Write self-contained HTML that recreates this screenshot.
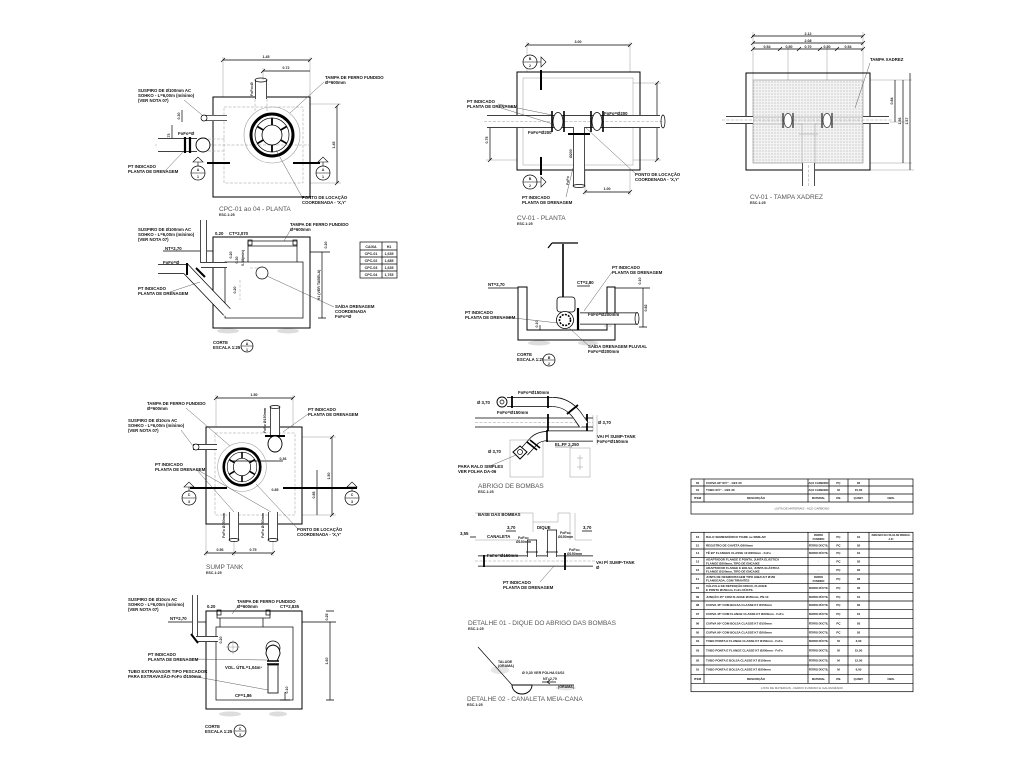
<!DOCTYPE html>
<html><head><meta charset="utf-8">
<style>
html,body{margin:0;padding:0;background:#fff;width:1024px;height:768px;overflow:hidden}
svg{display:block}
.l{fill:none;stroke:#000;stroke-width:.7}
.b{fill:none;stroke:#000;stroke-width:1}
.g{fill:none;stroke:#999;stroke-width:.5}
.d{fill:none;stroke:#999;stroke-width:.5;stroke-dasharray:3 1.5}
.k{fill:none;stroke:#000;stroke-width:2}
.ld{fill:none;stroke:#333;stroke-width:.4}
text{font-family:"Liberation Sans",sans-serif}
.t{font-size:4.3px;font-weight:bold;fill:#111}
.T{font-size:6.5px;fill:#555}
.s{font-size:3.6px;font-weight:bold;fill:#222}
.m{text-anchor:middle}
.tb text{font-size:3px;font-weight:bold;fill:#111}
.tb text.x{font-size:2.6px}
.tb text.o{font-size:2.3px}
</style></head><body>
<svg width="1024" height="768" viewBox="0 0 1024 768" xmlns="http://www.w3.org/2000/svg">
<defs>
<pattern id="hx" width="3" height="3" patternUnits="userSpaceOnUse"><rect width="3" height="3" fill="#f3f3f3"/><circle cx="1" cy="1" r=".6" fill="#b5b5b5"/></pattern>
<g id="mh">
<circle r="28" fill="none" stroke="#999" stroke-width=".6"/>
<circle r="21" fill="none" stroke="#000" stroke-width="3"/>
<circle r="17" fill="none" stroke="#000" stroke-width=".7"/>
<circle r="10" fill="none" stroke="#000" stroke-width=".8"/>
<path d="M8.7,5L14.7,8.5M0,10V17M-8.7,5L-14.7,8.5M-8.7,-5L-14.7,-8.5M0,-10V-17M8.7,-5L14.7,-8.5" stroke="#000" stroke-width="1.8" fill="none"/>
</g>
<g id="su">
<circle r="7" fill="#fff" stroke="#000" stroke-width=".7"/>
<line x1="-7" x2="7" stroke="#000" stroke-width=".5"/>
<path d="M0,-7V-11M-5,-11H5L0,-16Z" fill="none" stroke="#000" stroke-width=".6"/>
</g>
<g id="sr">
<circle r="7" fill="#fff" stroke="#000" stroke-width=".7"/>
<line x1="-7" x2="7" stroke="#000" stroke-width=".5"/>
<path d="M7,0H11M11,-5V5L16,0Z" fill="none" stroke="#000" stroke-width=".6"/>
</g>
<g id="sc">
<circle r="6" fill="#fff" stroke="#000" stroke-width=".7"/>
<line x1="-6" x2="6" stroke="#000" stroke-width=".5"/>
</g>
</defs>

<!-- ============ 1. CPC PLANTA ============ -->
<g>
<path class="g" d="M223,57V97M310,57V97M263,68V80M310,104H341M310,183H341"/>
<path class="l" d="M223,60H310M263,71H310M337,106V183M172,125V148M182,110V122"/>
<path class="l" d="M221,62l4,-4M308,62l4,-4M261,73l4,-4M335,108l4,-4M335,185l4,-4"/>
<text class="s m" x="266" y="58">1.45</text>
<text class="s m" x="286" y="69">0.72</text>
<text class="s m" transform="translate(335,145) rotate(-90)">1.45</text>
<text class="s m" transform="translate(170,137) rotate(-90)">0.73</text>
<text class="s m" transform="translate(180,116) rotate(-90)">0.30</text>
<rect class="b" x="213" y="97" width="97" height="100"/>
<rect class="d" x="224" y="107" width="79" height="76"/>
<line class="d" x1="155" y1="145" x2="310" y2="145"/>
<use href="#mh" x="272" y="135"/>
<line x1="261" y1="80" x2="261" y2="99" stroke="#000" stroke-width="12"/>
<line x1="261" y1="80" x2="261" y2="99.5" stroke="#fff" stroke-width="10.6"/>
<ellipse class="l" cx="261" cy="80" rx="6" ry="2"/>
<path class="d" d="M255,99V112M267,99V112"/>
<text class="s" transform="translate(253,96) rotate(-90)">FoFo=Ø</text>
<line x1="158" y1="145" x2="197" y2="145" stroke="#000" stroke-width="14"/>
<line x1="157" y1="145" x2="197" y2="145" stroke="#fff" stroke-width="12.6"/>
<path d="M185,137V153M190,137V153" stroke="#000" stroke-width="2.2"/>
<circle cx="203" cy="145" r="7" fill="#fff" stroke="#000" stroke-width=".9"/>
<path class="d" d="M208,139H225M208,151H225"/>
<line x1="202" y1="118" x2="227" y2="118" stroke="#000" stroke-width="6"/>
<line x1="202" y1="118" x2="227.5" y2="118" stroke="#fff" stroke-width="4.8"/>
<circle cx="204" cy="118" r="3" fill="#fff" stroke="#000" stroke-width=".7"/>
<path class="k" d="M207,163H230M293,163H320"/>
<use href="#su" x="198" y="173"/><use href="#su" x="323" y="173"/>
<text class="s m" x="198" y="171">A</text><text class="s m" x="198" y="178">1</text>
<text class="s m" x="323" y="171">A</text><text class="s m" x="323" y="178">1</text>
<text class="t" x="138" y="92">SUSPIRO DE Ø100mm AC</text>
<text class="t" x="138" y="97">SOHKO - L=6,00m (mínimo)</text>
<text class="t" x="138" y="102">(VER NOTA 07)</text>
<path class="ld" d="M184,100L202,115"/>
<text class="t" x="178" y="135">FoFo=Ø</text>
<text class="t" x="128" y="168">PT INDICADO</text>
<text class="t" x="128" y="173">PLANTA DE DRENAGEM</text>
<path class="ld" d="M165,171L183,152"/>
<text class="t" x="325" y="79">TAMPA DE FERRO FUNDIDO</text>
<text class="t" x="325" y="84">Ø=600mm</text>
<path class="ld" d="M324,82L290,113"/>
<text class="t" x="302" y="199">PONTO DE LOCAÇÃO</text>
<text class="t" x="302" y="204">COORDENADA - 'X,Y'</text>
<path class="ld" d="M302,197L276,150"/>
<text class="T" x="219" y="211">CPC-01 ao 04 - PLANTA</text>
<text class="s" x="219" y="216">ESC.1:25</text>
</g>

<!-- ============ 2. CPC CORTE ============ -->
<g>
<ellipse cx="228" cy="331" rx="11" ry="2.5" fill="#ddd"/><ellipse cx="288" cy="331" rx="11" ry="2.5" fill="#ddd"/>
<rect class="b" x="213" y="237" width="97" height="91"/>
<rect class="l" x="225" y="262" width="78" height="56"/>
<path class="l" d="M248,246V262M297,246V262"/>
<rect class="l" x="248" y="241" width="49" height="5"/>
<rect class="l" x="248" y="240" width="4" height="5"/><rect class="l" x="293" y="240" width="4" height="5"/>
<path class="l" d="M163,251H213M310,252H330M322,252V318M318,318H326"/>
<path class="d" d="M240,280V300M250,268H260"/>
<line x1="203.5" y1="220" x2="203.5" y2="263" stroke="#000" stroke-width="7"/>
<line x1="203.5" y1="219" x2="203.5" y2="263" stroke="#fff" stroke-width="5.6"/>
<line x1="201" y1="265" x2="227" y2="265" stroke="#000" stroke-width="6"/>
<line x1="201" y1="265" x2="227.5" y2="265" stroke="#fff" stroke-width="4.6"/>
<path d="M158,269H186L227,312" fill="none" stroke="#000" stroke-width="10"/>
<path d="M157,269H186L228,313" fill="none" stroke="#fff" stroke-width="8.6"/>
<path d="M187,263V275M196,268L205,277" stroke="#000" stroke-width="2"/>
<circle cx="262" cy="273" r="6" class="l"/>
<text class="s m" transform="translate(320,285) rotate(-90)">H1 (VER TABELA)</text>
<text class="s m" transform="translate(232,255) rotate(-90)">0.20</text>
<text class="s m" transform="translate(238,260) rotate(-90)">0.30</text>
<text class="s m" transform="translate(244,258) rotate(-90)">0.38(min)</text>
<text class="s m" transform="translate(236,290) rotate(-90)">0.20</text>
<text class="s m" transform="translate(327,245) rotate(-90)">0.20</text>
<rect class="l" x="360" y="242" width="37" height="36"/>
<path class="l" d="M382,242V278M360,250H397M360,257H397M360,264H397M360,271H397"/>
<text class="s m" x="371" y="248">CAIXA</text><text class="s m" x="389" y="248">H1</text>
<text class="s m" x="371" y="255">CPC-01</text><text class="s m" x="389" y="255">1,635</text>
<text class="s m" x="371" y="262">CPC-02</text><text class="s m" x="389" y="262">1,685</text>
<text class="s m" x="371" y="269">CPC-03</text><text class="s m" x="389" y="269">1,635</text>
<text class="s m" x="371" y="276">CPC-04</text><text class="s m" x="389" y="276">1,765</text>
<text class="t" x="138" y="231">SUSPIRO DE Ø100mm AC</text>
<text class="t" x="138" y="236">SOHKO - L=6,00m (mínimo)</text>
<text class="t" x="138" y="241">(VER NOTA 07)</text>
<text class="t" x="215" y="235">0.20</text><text class="t" x="229" y="235">CT=2,070</text>
<text class="t" x="290" y="226">TAMPA DE FERRO FUNDIDO</text>
<text class="t" x="290" y="231">Ø=600mm</text>
<path class="ld" d="M291,229L284,241"/>
<text class="t" x="165" y="250">NT=2,70</text>
<text class="t" x="163" y="264">FoFo=Ø</text>
<text class="t" x="138" y="290">PT INDICADO</text>
<text class="t" x="138" y="295">PLANTA DE DRENAGEM</text>
<path class="ld" d="M170,292L200,282"/>
<text class="t" x="335" y="308">SAÍDA DRENAGEM</text>
<text class="t" x="335" y="313">COORDENADA</text>
<text class="t" x="335" y="318">FoFo=Ø</text>
<path class="ld" d="M334,307L267,276"/>
<text class="t" x="213" y="344">CORTE</text>
<text class="t" x="213" y="349">ESCALA 1:25</text>
<use href="#sc" x="247" y="346"/>
<text class="s m" x="247" y="345">A</text><text class="s m" x="247" y="351">1</text>
</g>

<!-- ============ 3. CV-01 PLANTA ============ -->
<g>
<path class="g" d="M527,42V72M630,42V72M633,83H661M633,160H661M486,160H517M585,170V195M630,170V195"/>
<path class="l" d="M527,45H630M657,83V160M490,120V160M585,192H630"/>
<path class="l" d="M525,47l4,-4M628,47l4,-4M655,85l4,-4M655,162l4,-4M488,122l4,-4M488,162l4,-4M583,194l4,-4M628,194l4,-4"/>
<text class="s m" x="578" y="43">3.00</text>
<text class="s m" transform="translate(655,121) rotate(-90)">1.60</text>
<text class="s m" transform="translate(488,140) rotate(-90)">0.75</text>
<text class="s m" x="607" y="190">1.00</text>
<rect class="b" x="517" y="72" width="123" height="98"/>
<rect class="g" x="523" y="78" width="110" height="87"/>
<line x1="487" y1="121.5" x2="660" y2="121.5" stroke="#000" stroke-width="13"/>
<line x1="486" y1="121.5" x2="661" y2="121.5" stroke="#fff" stroke-width="11.6"/>
<line class="d" x1="484" y1="121.5" x2="664" y2="121.5"/>
<ellipse cx="663" cy="121.5" rx="2" ry="6.5" class="l"/>
<line x1="579" y1="127" x2="579" y2="186" stroke="#000" stroke-width="12"/>
<line x1="579" y1="127" x2="579" y2="186" stroke="#fff" stroke-width="10.6"/>
<ellipse cx="579" cy="186" rx="6" ry="1.5" class="l"/>
<path d="M568,134H590" stroke="#000" stroke-width="2"/>
<path d="M552,111V132M564,111V132M591,111V132M603,111V132" stroke="#000" stroke-width="1.6"/>
<ellipse cx="558" cy="121.5" rx="5" ry="9" fill="#fff" stroke="#000" stroke-width=".8"/>
<ellipse cx="597" cy="121.5" rx="5" ry="9" fill="#fff" stroke="#000" stroke-width=".8"/>
<path class="k" d="M541,70V90M541,157V175"/>
<use href="#sr" x="530" y="62"/><use href="#sr" x="530" y="182"/>
<text class="s m" x="530" y="60">B</text><text class="s m" x="530" y="67">2</text>
<text class="s m" x="530" y="180">B</text><text class="s m" x="530" y="187">2</text>
<text class="t" x="467" y="103">PT INDICADO</text>
<text class="t" x="467" y="108">PLANTA DE DRENAGEM</text>
<path class="ld" d="M498,104L552,115M498,107L553,124"/>
<text class="t" x="604" y="115">FoFo=Ø200</text>
<text class="t" x="528" y="134">FoFo=Ø200</text>
<text class="s" transform="translate(572,158) rotate(-90)">Ø200</text>
<text class="s" transform="translate(569,185) rotate(-90)">FoFo</text>
<text class="t" x="522" y="199">PT INDICADO</text>
<text class="t" x="522" y="204">PLANTA DE DRENAGEM</text>
<path class="ld" d="M566,197L573,168"/>
<text class="t" x="635" y="176">PONTO DE LOCAÇÃO</text>
<text class="t" x="635" y="181">COORDENADA - 'X,Y'</text>
<path class="ld" d="M636,174L586,128"/>
<text class="T" x="517" y="220">CV-01 - PLANTA</text>
<text class="s" x="517" y="225">ESC.1:25</text>
</g>

<!-- ============ 4. TAMPA XADREZ ============ -->
<g>
<path class="g" d="M753,32V80M863,32V80M788,47V117M827,47V117M870,80H912M866,122H906M870,163H912M870,170H914"/>
<path class="l" d="M752,36H863M753,43H863M753,49H863M895,80V122M903,80V163M910,73V170"/>
<path class="l" d="M751,38l4,-4M861,38l4,-4M751,45l4,-4M861,45l4,-4M751,51l4,-4M778,51l4,-4M797,51l4,-4M818,51l4,-4M835,51l4,-4M861,51l4,-4"/>
<text class="s m" x="808" y="35">2.12</text>
<text class="s m" x="808" y="42">2.08</text>
<text class="s m" x="767" y="48">0.54</text>
<text class="s m" x="789" y="48">0.50</text>
<text class="s m" x="808" y="48">0.70</text>
<text class="s m" x="827" y="48">0.50</text>
<text class="s m" x="848" y="48">0.54</text>
<text class="s m" transform="translate(893,101) rotate(-90)">0.84</text>
<text class="s m" transform="translate(901,121) rotate(-90)">1.56</text>
<text class="s m" transform="translate(908,121) rotate(-90)">1.67</text>
<rect class="b" x="746" y="73" width="124" height="97"/>
<rect x="753" y="80" width="110" height="83" fill="url(#hx)" stroke="#888" stroke-width=".6"/>
<line x1="726" y1="120" x2="753" y2="120" stroke="#000" stroke-width="8"/>
<line x1="725" y1="120" x2="753" y2="120" stroke="#fff" stroke-width="6.6"/>
<line x1="863" y1="120" x2="889" y2="120" stroke="#000" stroke-width="8"/>
<line x1="863" y1="120" x2="890" y2="120" stroke="#fff" stroke-width="6.6"/>
<line class="d" x1="722" y1="120" x2="893" y2="120"/>
<path class="g" d="M753,117H863M753,124H863"/>
<path d="M783,113V128M793,113V128M822,113V128M832,113V128" stroke="#333" stroke-width="1.3"/>
<ellipse cx="788" cy="120.5" rx="4" ry="7" fill="#fff" stroke="#333" stroke-width=".7"/>
<ellipse cx="827" cy="120.5" rx="4" ry="7" fill="#fff" stroke="#333" stroke-width=".7"/>
<path class="g" d="M797,124H802V133M818,124H815V133M799,134H818M802,134V163M815,134V163"/>
<line x1="808.5" y1="163" x2="808.5" y2="186" stroke="#000" stroke-width="13"/>
<line x1="808.5" y1="163" x2="808.5" y2="187" stroke="#fff" stroke-width="11.6"/>
<line class="d" x1="808.5" y1="165" x2="808.5" y2="187"/>
<text class="t" x="870" y="61">TAMPA XADREZ</text>
<path class="ld" d="M870,63L855,108"/>
<text class="T" x="750" y="199">CV-01 - TAMPA XADREZ</text>
<text class="s" x="750" y="204">ESC.1:25</text>
</g>

<!-- ============ 5. CV CORTE ============ -->
<g>
<ellipse cx="539" cy="343" rx="11" ry="2.5" fill="#ddd"/><ellipse cx="588" cy="343" rx="10" ry="2.5" fill="#ddd"/>
<path class="b" d="M518,287V340H615V287H607V330H527V287Z"/>
<path class="l" d="M488,288H518M615,288H650M643,288V327M639,327H647M540,325V330M577,286H590"/>
<path d="M563,244V298" stroke="#000" stroke-width="1.6"/>
<path d="M552,243H578M552,243L548,248" stroke="#000" stroke-width="1.2" fill="none"/>
<rect x="557" y="297" width="18" height="15" rx="3" fill="#fff" stroke="#000" stroke-width=".8"/>
<line x1="580" y1="318.5" x2="637" y2="318.5" stroke="#000" stroke-width="12"/>
<line x1="580" y1="318.5" x2="638" y2="318.5" stroke="#fff" stroke-width="10.6"/>
<ellipse cx="637" cy="318.5" rx="2" ry="6" class="l"/>
<circle cx="565" cy="320" r="8.5" fill="#fff" stroke="#000" stroke-width=".8"/>
<circle cx="565" cy="320" r="5.5" fill="none" stroke="#000" stroke-width="1.6" stroke-dasharray="2 1.2"/>
<path d="M578,308V330" stroke="#000" stroke-width="2.2"/>
<line class="d" x1="604" y1="326" x2="612" y2="326"/>
<text class="s m" transform="translate(647,308) rotate(-90)">0.82</text>
<text class="s m" transform="translate(641,281) rotate(-90)">0.10</text>
<text class="s m" transform="translate(538,324) rotate(-90)">0.10</text>
<text class="t" x="488" y="286">NT=2,70</text>
<text class="t" x="577" y="284">CT=2,80</text>
<text class="t" x="612" y="269">PT INDICADO</text>
<text class="t" x="612" y="274">PLANTA DE DRENAGEM</text>
<path class="ld" d="M612,272L584,311"/>
<text class="t" x="465" y="314">PT INDICADO</text>
<text class="t" x="465" y="319">PLANTA DE DRENAGEM</text>
<path class="ld" d="M505,317L558,323"/>
<text class="t" x="588" y="316">FoFo=Ø200mm</text>
<text class="t" x="588" y="348">SAÍDA DRENAGEM PLUVIAL</text>
<text class="t" x="588" y="353">FoFo=Ø200mm</text>
<path class="ld" d="M589,346L568,327"/>
<text class="t" x="517" y="356">CORTE</text>
<text class="t" x="517" y="361">ESCALA 1:25</text>
<use href="#sc" x="549" y="360"/>
<text class="s m" x="549" y="359">B</text><text class="s m" x="549" y="365">2</text>
</g>

<!-- ============ 6. SUMP TANK PLANTA ============ -->
<g>
<path class="g" d="M216,395V427M293,395V427M302,437H336M302,515H336M206,524V556M234,540V556M273,540V556"/>
<path class="l" d="M216,398H293M332,437V515M317,470V515M206,553H273M230,461H283"/>
<path class="l" d="M214,400l4,-4M291,400l4,-4M330,439l4,-4M330,517l4,-4M204,555l4,-4M232,555l4,-4M271,555l4,-4"/>
<text class="s m" x="254" y="396">1.50</text>
<text class="s m" x="283" y="460">0.36</text>
<text class="s m" x="275" y="491">0.85</text>
<text class="s m" transform="translate(330,476) rotate(-90)">1.50</text>
<text class="s m" transform="translate(315,495) rotate(-90)">0.85</text>
<text class="s m" x="220" y="551">0.56</text>
<text class="s m" x="253" y="551">0.75</text>
<rect class="b" x="206" y="427" width="96" height="97"/>
<rect class="d" x="215" y="433" width="80" height="82"/>
<use href="#mh" transform="translate(242,467) scale(.87)"/>
<line x1="275" y1="407" x2="275" y2="437" stroke="#000" stroke-width="10"/>
<line x1="275" y1="406" x2="275" y2="437" stroke="#fff" stroke-width="8.6"/>
<ellipse cx="275" cy="407" rx="5" ry="1.5" class="l"/>
<path d="M265,436H285" stroke="#000" stroke-width="2"/>
<ellipse cx="275" cy="444" rx="7" ry="8" fill="#fff" stroke="#000" stroke-width=".9"/>
<line x1="193" y1="447" x2="217" y2="447" stroke="#000" stroke-width="6"/>
<line x1="193" y1="447" x2="217.5" y2="447" stroke="#fff" stroke-width="4.6"/>
<circle cx="196" cy="447" r="3" fill="#fff" stroke="#000" stroke-width=".7"/>
<line x1="234" y1="512" x2="234" y2="540" stroke="#000" stroke-width="10"/>
<line x1="234" y1="511" x2="234" y2="541" stroke="#fff" stroke-width="8.6"/>
<line x1="273" y1="512" x2="273" y2="540" stroke="#000" stroke-width="10"/>
<line x1="273" y1="511" x2="273" y2="541" stroke="#fff" stroke-width="8.6"/>
<ellipse cx="234" cy="540" rx="5" ry="1.5" class="l"/><ellipse cx="273" cy="540" rx="5" ry="1.5" class="l"/>
<path class="k" d="M190,488H227M283,488H357"/>
<use href="#su" x="189" y="498"/><use href="#su" x="352" y="498"/>
<text class="s m" x="189" y="496">C</text><text class="s m" x="189" y="503">3</text>
<text class="s m" x="352" y="496">C</text><text class="s m" x="352" y="503">3</text>
<text class="s" transform="translate(225,538) rotate(-90)">FoFo Ø150mm</text>
<text class="s" transform="translate(264,538) rotate(-90)">FoFo Ø150mm</text>
<text class="s" transform="translate(266,433) rotate(-90)">FoFo Ø150mm</text>
<text class="t" x="147" y="405">TAMPA DE FERRO FUNDIDO</text>
<text class="t" x="147" y="410">Ø=600mm</text>
<path class="ld" d="M186,408L230,446"/>
<text class="t" x="128" y="422">SUSPIRO DE Ø10cm AC</text>
<text class="t" x="128" y="427">SOHKO - L=6,00m (mínimo)</text>
<text class="t" x="128" y="432">(VER NOTA 07)</text>
<path class="ld" d="M181,430L193,446"/>
<text class="t" x="155" y="466">PT INDICADO</text>
<text class="t" x="155" y="471">PLANTA DE DRENAGEM</text>
<path class="ld" d="M196,469L234,512M196,469L271,512"/>
<text class="t" x="308" y="411">PT INDICADO</text>
<text class="t" x="308" y="416">PLANTA DE DRENAGEM</text>
<path class="ld" d="M308,414L283,432"/>
<text class="t" x="297" y="531">PONTO DE LOCAÇÃO</text>
<text class="t" x="297" y="536">COORDENADA - 'X,Y'</text>
<path class="ld" d="M298,529L256,484"/>
<text class="T" x="206" y="569">SUMP TANK</text>
<text class="s" x="206" y="574">ESC.1:25</text>
</g>

<!-- ============ 7. SUMP CORTE ============ -->
<g>
<ellipse cx="230" cy="714" rx="11" ry="2.5" fill="#ddd"/><ellipse cx="278" cy="714" rx="9" ry="2.5" fill="#ddd"/>
<rect class="b" x="206" y="611" width="96" height="98"/>
<rect class="l" x="216" y="627" width="77" height="73"/>
<rect class="l" x="217" y="611" width="53" height="7"/>
<rect class="l" x="217" y="610" width="4" height="5"/><rect class="l" x="266" y="610" width="4" height="5"/>
<path class="l" d="M220,618V627M263,618V627M168,622H206M302,622H336M330,622V700M326,700H334M326,611H334M280,700H290M285,692V700"/>
<line x1="195" y1="595" x2="195" y2="636" stroke="#000" stroke-width="6"/>
<line x1="195" y1="594" x2="195" y2="636" stroke="#fff" stroke-width="4.6"/>
<line x1="196" y1="639" x2="218" y2="639" stroke="#000" stroke-width="6"/>
<line x1="196" y1="639" x2="218.5" y2="639" stroke="#fff" stroke-width="4.6"/>
<path d="M191,634L198,643" stroke="#000" stroke-width="2"/>
<circle cx="233" cy="647" r="5" class="l"/>
<line class="g" x1="226" y1="647" x2="240" y2="647"/><line class="g" x1="233" y1="640" x2="233" y2="654"/>
<circle cx="273" cy="648" r="7" class="l"/>
<path d="M266,654Q266,646 273,645Q280,646 280,654L277,661H269Z" fill="#fff" stroke="#000" stroke-width=".9"/>
<path d="M267,661H279M267,664H279" stroke="#000" stroke-width="1.4"/>
<rect x="268" y="665" width="10" height="28" fill="#fff" stroke="#000" stroke-width=".8"/>
<text class="s m" transform="translate(328,661) rotate(-90)">1.60</text>
<text class="s m" transform="translate(328,617) rotate(-90)">0.25</text>
<text class="s m" transform="translate(288,690) rotate(-90)">0.10</text>
<text class="s m" transform="translate(222,640) rotate(-90)">0.20</text>
<text class="t" x="128" y="601">SUSPIRO DE Ø10cm AC</text>
<text class="t" x="128" y="606">SOHKO - L=6,00m (mínimo)</text>
<text class="t" x="128" y="611">(VER NOTA 07)</text>
<text class="t" x="207" y="608">0.20</text>
<text class="t" x="237" y="603">TAMPA DE FERRO FUNDIDO</text>
<text class="t" x="237" y="608">Ø=600mm</text>
<path class="ld" d="M238,606L232,614"/>
<text class="t" x="280" y="608">CT=2,835</text>
<text class="t" x="170" y="620">NT=2,70</text>
<text class="t" x="148" y="656">PT INDICADO</text>
<text class="t" x="148" y="661">PLANTA DE DRENAGEM</text>
<path class="ld" d="M190,659L267,660"/>
<text class="t" x="225" y="669">VOL. ÚTIL=1,04m³</text>
<text class="t" x="128" y="673">TUBO EXTRAVASOR TIPO PESCADOR</text>
<text class="t" x="128" y="678">PARA EXTRAVASÃO-FoFo Ø150mm</text>
<path class="ld" d="M192,676L268,690"/>
<text class="t" x="235" y="697">CF=1,86</text>
<text class="t" x="205" y="728">CORTE</text>
<text class="t" x="205" y="733">ESCALA 1:25</text>
<use href="#sc" x="240" y="731"/>
<text class="s m" x="240" y="730">C</text><text class="s m" x="240" y="736">3</text>
</g>

<!-- ============ 8. ABRIGO DE BOMBAS ============ -->
<g>
<rect class="g" x="510" y="440" width="33" height="37"/>
<rect class="g" x="570" y="448" width="20" height="29"/>
<path class="g" d="M580,455V470M577,458H583M577,467H583M593,415V432M597,415V445"/>
<path class="l" d="M475,418H593M475,427H593"/>
<line class="d" x1="475" y1="422.5" x2="593" y2="422.5"/>
<path d="M548,414V431M587,414V431" stroke="#000" stroke-width="1.8"/>
<line x1="507" y1="402" x2="553" y2="402" stroke="#000" stroke-width="10"/>
<line x1="507" y1="402" x2="553" y2="402" stroke="#fff" stroke-width="8.6"/>
<path d="M553,402Q567,402 577,415L583,424" fill="none" stroke="#000" stroke-width="10"/>
<path d="M552,402Q567,402 577,415L584,425" fill="none" stroke="#fff" stroke-width="8.6"/>
<path d="M512,396V408M548,396V408M567,414L578,405" stroke="#000" stroke-width="1.8"/>
<circle cx="502" cy="402" r="5" fill="#fff" stroke="#000" stroke-width=".9"/><circle cx="502" cy="402" r="2" class="l"/>
<line x1="547" y1="436" x2="593" y2="436" stroke="#000" stroke-width="11"/>
<line x1="547" y1="436" x2="594" y2="436" stroke="#fff" stroke-width="9.6"/>
<path d="M548,436Q538,436 533,442L524,452" fill="none" stroke="#000" stroke-width="10"/>
<path d="M549,436Q538,436 533,442L523,453" fill="none" stroke="#fff" stroke-width="8.6"/>
<path d="M547,430V442M527,442L537,450M530,440L540,448" stroke="#000" stroke-width="1.6"/>
<path d="M520,446L527,452L520,459L513,452Z" fill="#fff" stroke="#000" stroke-width="1"/>
<circle cx="520" cy="452" r="2.5" class="l"/>
<text class="t" x="518" y="394">FoFo=Ø150mm</text>
<text class="t" x="497" y="414">FoFo=Ø150mm</text>
<text class="t" x="477" y="404">Ø 3,70</text>
<text class="t" x="598" y="424">Ø 3,70</text>
<text class="t" x="597" y="438">VAI P/ SUMP-TANK</text>
<text class="t" x="597" y="443">FoFo=Ø150mm</text>
<text class="t" x="555" y="446">EL.FF 2,250</text>
<path class="ld" d="M555,447H572"/>
<text class="t" x="488" y="453">Ø 3,70</text>
<text class="t" x="458" y="468">PARA RALO SIMPLES</text>
<text class="t" x="458" y="473">VER FOLHA DA-06</text>
<path class="ld" d="M490,466L516,455"/>
<text class="T" x="478" y="488">ABRIGO DE BOMBAS</text>
<text class="s" x="478" y="493">ESC.1:25</text>
</g>

<!-- ============ 9. DETALHE 01 ============ -->
<g>
<path class="g" d="M475,513H533V532M533,522H558V513H570V540M575,513V540H592M475,540H520"/>
<path class="l" d="M506,531H516M582,531H592M470,537H476"/>
<line x1="478" y1="561" x2="593" y2="561" stroke="#000" stroke-width="11"/>
<line x1="477" y1="561" x2="594" y2="561" stroke="#fff" stroke-width="9.6"/>
<line class="d" x1="475" y1="561" x2="596" y2="561"/>
<line x1="532" y1="540" x2="532" y2="557" stroke="#000" stroke-width="10"/>
<line x1="532" y1="539" x2="532" y2="558" stroke="#fff" stroke-width="8.6"/>
<line x1="552" y1="530" x2="552" y2="557" stroke="#000" stroke-width="10"/>
<line x1="552" y1="529" x2="552" y2="558" stroke="#fff" stroke-width="8.6"/>
<path class="l" d="M527,540H537M547,530H557M526,552H538M546,552H558"/>
<path d="M565,553V570M484,555V567" stroke="#000" stroke-width="1.8"/>
<text class="t" x="478" y="516">BASE DAS BOMBAS</text>
<text class="t" x="507" y="529">3,70</text>
<text class="t" x="537" y="529">DIQUE</text>
<text class="t" x="583" y="529">3,70</text>
<text class="t" x="460" y="535">3,55</text>
<text class="t" x="487" y="538">CANALETA</text>
<text class="s" x="518" y="539">FoFo=</text><text class="s" x="516" y="543">Ø150mm</text>
<text class="s" x="560" y="534">FoFo=</text><text class="s" x="558" y="538">Ø150mm</text>
<text class="s" x="569" y="551">FoFo=</text><text class="s" x="567" y="555">Ø150mm</text>
<text class="t" x="487" y="557">FoFo=Ø150mm</text>
<text class="t" x="596" y="564">VAI P/ SUMP-TANK</text>
<text class="t" x="596" y="569">Ø</text>
<text class="t" x="503" y="584">PT INDICADO</text>
<text class="t" x="503" y="589">PLANTA DE DRENAGEM</text>
<path class="ld" d="M540,582L554,566"/>
<text class="T" x="468" y="625">DETALHE 01 - DIQUE DO ABRIGO DAS BOMBAS</text>
<text class="s" x="468" y="630">ESC.1:25</text>
</g>

<!-- ============ 10. DETALHE 02 ============ -->
<g>
<ellipse cx="500" cy="670" rx="9" ry="4" fill="#e6e6e6"/>
<ellipse cx="566" cy="688" rx="10" ry="2.5" fill="#e6e6e6"/>
<path class="l" d="M478,647L512,685M532,685H574"/>
<path d="M512,685A10,9 0 0 0 532,685Z" fill="#fff" stroke="#000" stroke-width=".9"/>
<path class="l" d="M542,682H556M550,680l-3,2 3,2"/>
<text class="s" x="498" y="663">TALUDE</text>
<text class="s" x="498" y="667">(GRAMA)</text>
<text class="s" x="522" y="674">Ø 0,30 VER FOLHA 01/02</text>
<text class="s" x="543" y="680">NT=2,70</text>
<text class="s" x="558" y="688">(GRAMA)</text>
<text class="T" x="467" y="701">DETALHE 02 - CANALETA MEIA-CANA</text>
<text class="s" x="467" y="706">ESC.1:25</text>
</g>

<!-- ============ 11. TABLE 1 ============ -->
<g class="tb">
<rect class="l" x="691" y="479" width="222" height="35"/>
<path class="l" d="M691,486H913M691,494H913M691,502H913M704,479V502M808,479V502M829,479V502M848,479V502M869,479V502"/>
<text class="m" x="697.5" y="483.8">02</text><text x="706" y="483.8">CURVA 90º Ø½" - 1/2X 30</text><text class="m x" x="818.5" y="483.8">AÇO CARBONO</text><text class="m" x="838.5" y="483.8">PÇ</text><text class="m" x="858.5" y="483.8">02</text>
<text class="m" x="697.5" y="491.2">01</text><text x="706" y="491.2">TUBO Ø½" - 1/2X 30</text><text class="m x" x="818.5" y="491.2">AÇO CARBONO</text><text class="m" x="838.5" y="491.2">M</text><text class="m" x="858.5" y="491.2">15,00</text>
<text class="m" x="697.5" y="499">ITEM</text><text class="m" x="756" y="499">DESCRIÇÃO</text><text class="m x" x="818.5" y="499">MATERIAL</text><text class="m" x="838.5" y="499">UN.</text><text class="m x" x="858.5" y="499">QUANT.</text><text class="m" x="891" y="499">OBS.</text>
<text class="m" x="802" y="509.5" style="font-weight:normal;fill:#555">LISTA DE MATERIAIS - AÇO CARBONO</text>
</g>

<!-- ============ 12. TABLE 2 ============ -->
<g class="tb">
<rect class="l" x="691" y="532.3" width="222" height="159.4"/>
<path class="l" d="M691,541.7H913M691,549H913M691,557.3H913M691,565.7H913M691,574H913M691,583.3H913M691,592.7H913M691,601H913M691,609.3H913M691,618.7H913M691,628.3H913M691,637H913M691,645.3H913M691,656H913M691,665H913M691,674.3H913M691,683.3H913M704,532.3V683.3M808,532.3V683.3M829,532.3V683.3M848,532.3V683.3M869,532.3V683.3"/>
<text class="m" x="697.5" y="538">16</text><text x="706" y="538">RALO SEMIESFÉRICO TIGRE ou SIMILAR</text><text class="m x" x="818.5" y="536">FERRO</text><text class="m x" x="818.5" y="540">FUNDIDO</text><text class="m" x="838.5" y="538">PÇ</text><text class="m" x="858.5" y="538">01</text><text class="m o" x="891" y="536">INDICADO NA FOLHA DE DRENAG.</text><text class="m o" x="891" y="540">A-01</text>
<text class="m" x="697.5" y="546.3">15</text><text x="706" y="546.3">REGISTRO DE GAVETA Ø200mm</text><text class="m x" x="818.5" y="546.3">FERRO DÚCTIL</text><text class="m" x="838.5" y="546.3">PÇ</text><text class="m" x="858.5" y="546.3">02</text>
<text class="m" x="697.5" y="554.2">14</text><text x="706" y="554.2">TÊ 90º FLANGES CLASSE 10 Ø200mm - FoFo</text><text class="m x" x="818.5" y="554.2">FERRO DÚCTIL</text><text class="m" x="838.5" y="554.2">PÇ</text><text class="m" x="858.5" y="554.2">01</text>
<text class="m" x="697.5" y="562.5">13</text><text x="706" y="560.6">ADAPTADOR FLANGE E PONTA, JUNTA ELÁSTICA</text><text x="706" y="564.3">FLANGE Ø200mm, TIPO DE ENCAIXE</text><text class="m x" x="818.5" y="562.5">-</text><text class="m" x="838.5" y="562.5">PÇ</text><text class="m" x="858.5" y="562.5">02</text>
<text class="m" x="697.5" y="571">12</text><text x="706" y="569">ADAPTADOR FLANGE E BOLSA, JUNTA ELÁSTICA</text><text x="706" y="572.7">FLANGE Ø150mm, TIPO DE ENCAIXE</text><text class="m x" x="818.5" y="571">-</text><text class="m" x="838.5" y="571">PÇ</text><text class="m" x="858.5" y="571">02</text>
<text class="m" x="697.5" y="580">11</text><text x="706" y="578">JUNTA DE DESMONTAGEM TIPO GIBAULT Ø150</text><text x="706" y="581.7">FLANGEADA, COM TIRANTES</text><text class="m x" x="818.5" y="578">FERRO</text><text class="m x" x="818.5" y="582">FUNDIDO</text><text class="m" x="838.5" y="580">PÇ</text><text class="m" x="858.5" y="580">03</text>
<text class="m" x="697.5" y="589">10</text><text x="706" y="587.2">VÁLVULA DE RETENÇÃO DISCO, FLANGE</text><text x="706" y="590.9">E PONTA Ø150mm, FoFo DÚCTIL</text><text class="m x" x="818.5" y="589">FERRO DÚCTIL</text><text class="m" x="838.5" y="589">PÇ</text><text class="m" x="858.5" y="589">02</text>
<text class="m" x="697.5" y="597.8">09</text><text x="706" y="597.8">JUNÇÃO 45º COM FLANGE Ø150mm, PN 10</text><text class="m x" x="818.5" y="597.8">FERRO DÚCTIL</text><text class="m" x="838.5" y="597.8">PÇ</text><text class="m" x="858.5" y="597.8">01</text>
<text class="m" x="697.5" y="606.2">08</text><text x="706" y="606.2">CURVA 45º COM BOLSA CLASSE K7 Ø150mm</text><text class="m x" x="818.5" y="606.2">FERRO DÚCTIL</text><text class="m" x="838.5" y="606.2">PÇ</text><text class="m" x="858.5" y="606.2">02</text>
<text class="m" x="697.5" y="615">07</text><text x="706" y="615">CURVA 45º COM FLANGE CLASSE K7 Ø200mm - FoFo</text><text class="m x" x="818.5" y="615">FERRO DÚCTIL</text><text class="m" x="838.5" y="615">PÇ</text><text class="m" x="858.5" y="615">01</text>
<text class="m" x="697.5" y="624.5">06</text><text x="706" y="624.5">CURVA 90º COM BOLSA CLASSE K7 Ø150mm</text><text class="m x" x="818.5" y="624.5">FERRO DÚCTIL</text><text class="m" x="838.5" y="624.5">PÇ</text><text class="m" x="858.5" y="624.5">03</text>
<text class="m" x="697.5" y="633.7">05</text><text x="706" y="633.7">CURVA 90º COM BOLSA CLASSE K7 Ø200mm</text><text class="m x" x="818.5" y="633.7">FERRO DÚCTIL</text><text class="m" x="838.5" y="633.7">PÇ</text><text class="m" x="858.5" y="633.7">02</text>
<text class="m" x="697.5" y="642.2">04</text><text x="706" y="642.2">TUBO PONTA E FLANGE CLASSE K7 Ø150mm - FoFo</text><text class="m x" x="818.5" y="642.2">FERRO DÚCTIL</text><text class="m" x="838.5" y="642.2">M</text><text class="m" x="858.5" y="642.2">3,00</text>
<text class="m" x="697.5" y="651.7">03</text><text x="706" y="651.7">TUBO PONTA E FLANGE CLASSE K7 Ø200mm - FoFo</text><text class="m x" x="818.5" y="651.7">FERRO DÚCTIL</text><text class="m" x="838.5" y="651.7">M</text><text class="m" x="858.5" y="651.7">15,00</text>
<text class="m" x="697.5" y="661.5">02</text><text x="706" y="661.5">TUBO PONTA E BOLSA CLASSE K7 Ø150mm</text><text class="m x" x="818.5" y="661.5">FERRO DÚCTIL</text><text class="m" x="838.5" y="661.5">M</text><text class="m" x="858.5" y="661.5">12,00</text>
<text class="m" x="697.5" y="670.7">01</text><text x="706" y="670.7">TUBO PONTA E BOLSA CLASSE K7 Ø200mm</text><text class="m x" x="818.5" y="670.7">FERRO DÚCTIL</text><text class="m" x="838.5" y="670.7">M</text><text class="m" x="858.5" y="670.7">6,00</text>
<text class="m" x="697.5" y="679.8">ITEM</text><text class="m" x="756" y="679.8">DESCRIÇÃO</text><text class="m x" x="818.5" y="679.8">MATERIAL</text><text class="m" x="838.5" y="679.8">UN.</text><text class="m x" x="858.5" y="679.8">QUANT.</text><text class="m" x="891" y="679.8">OBS.</text>
<text class="m" x="802" y="689" style="font-weight:normal;fill:#555">LISTA DE MATERIAIS - FERRO FUNDIDO E GALVANIZADO</text>
</g>
</svg>
</body></html>
